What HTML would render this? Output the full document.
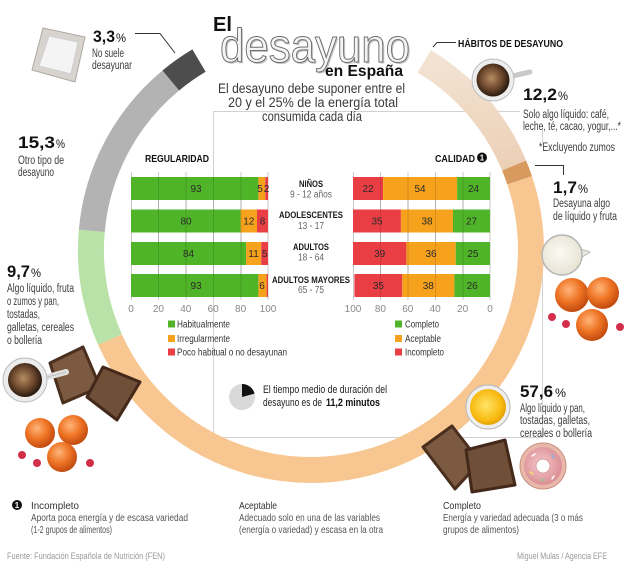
<!DOCTYPE html>
<html><head><meta charset="utf-8"><style>
html,body{margin:0;padding:0;background:#fff;}
svg{display:block;}
text{font-family:"Liberation Sans",Arial,sans-serif;}
</style></head><body>
<svg width="624" height="571" viewBox="0 0 624 571" xmlns="http://www.w3.org/2000/svg">
<defs>
 <radialGradient id="coffee" cx="45%" cy="45%" r="55%"><stop offset="0" stop-color="#b68c62"/><stop offset="0.6" stop-color="#6b472c"/><stop offset="1" stop-color="#2a1a10"/></radialGradient>
 <radialGradient id="orng" cx="40%" cy="35%" r="65%"><stop offset="0" stop-color="#ffb57a"/><stop offset="0.55" stop-color="#ee7424"/><stop offset="1" stop-color="#c24b10"/></radialGradient>
 <radialGradient id="juice" cx="45%" cy="45%" r="60%"><stop offset="0" stop-color="#ffe468"/><stop offset="0.7" stop-color="#f8bb12"/><stop offset="1" stop-color="#e09a00"/></radialGradient>
 <radialGradient id="milk" cx="45%" cy="45%" r="60%"><stop offset="0" stop-color="#fbfaf4"/><stop offset="1" stop-color="#e6e2d2"/></radialGradient>
 <radialGradient id="donut" cx="45%" cy="45%" r="60%"><stop offset="0" stop-color="#f6c8cc"/><stop offset="1" stop-color="#d88a90"/></radialGradient>
 <linearGradient id="tanG" x1="0" y1="0" x2="0" y2="1"><stop offset="0" stop-color="#f3e2d2"/><stop offset="1" stop-color="#ecd0b6"/></linearGradient>
</defs>

<!-- frame lines -->
<g stroke="#d2d2d2" stroke-width="1" fill="none">
 <path d="M213.5,437.5 V111.5 H520"/>
 <path d="M213.5,437.5 H542.5 V237"/>
 <path d="M542.5,125 V143"/>
</g>

<!-- ring -->
<g fill="none" stroke-width="26">
 <path d="M519.6,180.2 A220,220 0 0 1 110.0,339.5" stroke="#f8c690"/>
 <path d="M110.0,339.5 A220,220 0 0 1 91.8,230.8" stroke="#b9e2a8"/>
 <path d="M91.8,230.8 A220,220 0 0 1 170.8,80.5" stroke="#b3b3b3"/>
 <path d="M170.8,80.5 A220,220 0 0 1 199.0,60.6" stroke="#4d4d4d"/>
 <path d="M424.3,61.4 A220,220 0 0 1 514.1,165.5" stroke="url(#tanG)"/>
 <path d="M514.1,165.5 A220,220 0 0 1 519.6,180.2" stroke="#d89a5e"/>
</g>

<!-- title -->
<text x="213" y="31" font-size="20" font-weight="bold" fill="#111" textLength="19" lengthAdjust="spacingAndGlyphs">El</text>
<text x="221.5" y="63.5" font-size="47" fill="#c4c4c4" textLength="190" lengthAdjust="spacingAndGlyphs">desayuno</text>
<text x="220" y="62" font-size="47" fill="#f4f4f4" stroke="#6e6e6e" stroke-width="1" textLength="190" lengthAdjust="spacingAndGlyphs">desayuno</text>
<text x="325" y="76" font-size="16" font-weight="bold" fill="#111" textLength="78" lengthAdjust="spacingAndGlyphs">en España</text>
<g font-size="13.5" fill="#3a3a3a" text-anchor="middle">
 <text x="311.5" y="93" textLength="187" lengthAdjust="spacingAndGlyphs">El desayuno debe suponer entre el</text>
 <text x="313" y="107" textLength="170" lengthAdjust="spacingAndGlyphs">20 y el 25% de la energía total</text>
 <text x="312" y="121" textLength="100" lengthAdjust="spacingAndGlyphs">consumida cada día</text>
</g>

<!-- callout lines -->
<g stroke="#333" stroke-width="1" fill="none">
 <path d="M135,33.5 H160 L175,53"/>
 <path d="M433,47 L437,42.5 H456"/>
 <path d="M535,165.5 H563.5 V175"/>
</g>

<!-- napkin -->
<polygon points="43,28 85,37 75,82 32,70" fill="#d7d3cf" stroke="#aea8a2" stroke-width="1"/>
<polygon points="49,36 78,42 71,74 39,66" fill="#f4f4f4" stroke="#cfcfcf" stroke-width="1"/>

<!-- top-left annotations -->
<text x="93" y="42" font-size="17" font-weight="bold" fill="#111" textLength="22" lengthAdjust="spacingAndGlyphs">3,3</text>
<text x="116" y="42" font-size="12" fill="#111" textLength="10" lengthAdjust="spacingAndGlyphs">%</text>
<g font-size="11.5" fill="#3c3c3c">
 <text x="92" y="57" textLength="32" lengthAdjust="spacingAndGlyphs">No suele</text>
 <text x="92" y="69" textLength="40" lengthAdjust="spacingAndGlyphs">desayunar</text>
</g>
<text x="18" y="148" font-size="17" font-weight="bold" fill="#111" textLength="37" lengthAdjust="spacingAndGlyphs">15,3</text>
<text x="56" y="148" font-size="12" fill="#111" textLength="9" lengthAdjust="spacingAndGlyphs">%</text>
<g font-size="11.5" fill="#3c3c3c">
 <text x="18" y="164" textLength="46" lengthAdjust="spacingAndGlyphs">Otro tipo de</text>
 <text x="18" y="176" textLength="36" lengthAdjust="spacingAndGlyphs">desayuno</text>
</g>
<text x="7" y="277" font-size="17" font-weight="bold" fill="#111" textLength="23" lengthAdjust="spacingAndGlyphs">9,7</text>
<text x="31" y="277" font-size="12" fill="#111" textLength="10" lengthAdjust="spacingAndGlyphs">%</text>
<g font-size="11.5" fill="#3c3c3c">
 <text x="7" y="292" textLength="67" lengthAdjust="spacingAndGlyphs">Algo líquido, fruta</text>
 <text x="7" y="305" textLength="52" lengthAdjust="spacingAndGlyphs">o zumos y pan,</text>
 <text x="7" y="318" textLength="33" lengthAdjust="spacingAndGlyphs">tostadas,</text>
 <text x="7" y="331" textLength="67" lengthAdjust="spacingAndGlyphs">galletas, cereales</text>
 <text x="7" y="344" textLength="35" lengthAdjust="spacingAndGlyphs">o bollería</text>
</g>

<!-- right annotations -->
<text x="458" y="47" font-size="10" font-weight="bold" fill="#111" textLength="105" lengthAdjust="spacingAndGlyphs">HÁBITOS DE DESAYUNO</text>
<text x="523" y="100" font-size="17" font-weight="bold" fill="#111" textLength="34" lengthAdjust="spacingAndGlyphs">12,2</text>
<text x="558" y="100" font-size="12" fill="#111" textLength="10" lengthAdjust="spacingAndGlyphs">%</text>
<g font-size="11.5" fill="#3c3c3c">
 <text x="523" y="118" textLength="86" lengthAdjust="spacingAndGlyphs">Solo algo líquido: café,</text>
 <text x="523" y="130" textLength="98" lengthAdjust="spacingAndGlyphs">leche, té, cacao, yogur,...*</text>
 <text x="539" y="151" textLength="76" lengthAdjust="spacingAndGlyphs">*Excluyendo zumos</text>
</g>
<text x="553" y="193" font-size="17" font-weight="bold" fill="#111" textLength="24" lengthAdjust="spacingAndGlyphs">1,7</text>
<text x="578" y="193" font-size="12" fill="#111" textLength="10" lengthAdjust="spacingAndGlyphs">%</text>
<g font-size="11.5" fill="#3c3c3c">
 <text x="553" y="207" textLength="57" lengthAdjust="spacingAndGlyphs">Desayuna algo</text>
 <text x="553" y="220" textLength="64" lengthAdjust="spacingAndGlyphs">de líquido y fruta</text>
</g>
<text x="520" y="397" font-size="17" font-weight="bold" fill="#111" textLength="33" lengthAdjust="spacingAndGlyphs">57,6</text>
<text x="555" y="397" font-size="12" fill="#111" textLength="11" lengthAdjust="spacingAndGlyphs">%</text>
<g font-size="11.5" fill="#3c3c3c">
 <text x="520" y="412" textLength="65" lengthAdjust="spacingAndGlyphs">Algo líquido y pan,</text>
 <text x="520" y="424" textLength="70" lengthAdjust="spacingAndGlyphs">tostadas, galletas,</text>
 <text x="520" y="437" textLength="72" lengthAdjust="spacingAndGlyphs">cereales o bollería</text>
</g>

<!-- chart titles -->
<text x="145" y="162" font-size="10" font-weight="bold" fill="#111" textLength="64" lengthAdjust="spacingAndGlyphs">REGULARIDAD</text>
<text x="435" y="162" font-size="10" font-weight="bold" fill="#111" textLength="40" lengthAdjust="spacingAndGlyphs">CALIDAD</text>
<circle cx="482" cy="157.5" r="5" fill="#111"/>
<text x="482" y="160.5" font-size="8" font-weight="bold" fill="#fff" text-anchor="middle">1</text>

<!-- gridlines -->
<g stroke="#c8c8c8" stroke-width="1">
 <path d="M131.5,172 V300 M158.5,172 V300 M186,172 V300 M213.5,172 V300 M241,172 V300 M268,172 V300"/>
 <path d="M353.5,172 V300 M380.5,172 V300 M408,172 V300 M435.5,172 V300 M463,172 V300 M490,172 V300"/>
</g>

<!-- left bars -->
<g>
 <rect x="131" y="177" width="127.4" height="23" fill="#4fb428"/>
 <rect x="258.4" y="177" width="6.9" height="23" fill="#f6a21d"/>
 <rect x="265.3" y="177" width="2.7" height="23" fill="#ea3e45"/>
 <rect x="131" y="209.5" width="109.6" height="23" fill="#4fb428"/>
 <rect x="240.6" y="209.5" width="16.4" height="23" fill="#f6a21d"/>
 <rect x="257" y="209.5" width="11" height="23" fill="#ea3e45"/>
 <rect x="131" y="242" width="115.1" height="23" fill="#4fb428"/>
 <rect x="246.1" y="242" width="15.1" height="23" fill="#f6a21d"/>
 <rect x="261.2" y="242" width="6.8" height="23" fill="#ea3e45"/>
 <rect x="131" y="274" width="127.4" height="23" fill="#4fb428"/>
 <rect x="258.4" y="274" width="8.2" height="23" fill="#f6a21d"/>
 <rect x="266.6" y="274" width="1.4" height="23" fill="#ea3e45"/>
</g>
<!-- right bars -->
<g>
 <rect x="353" y="177" width="30.1" height="23" fill="#ea3e45"/>
 <rect x="383.1" y="177" width="74" height="23" fill="#f6a21d"/>
 <rect x="457.1" y="177" width="32.9" height="23" fill="#4fb428"/>
 <rect x="353" y="209.5" width="47.9" height="23" fill="#ea3e45"/>
 <rect x="400.9" y="209.5" width="52.1" height="23" fill="#f6a21d"/>
 <rect x="453" y="209.5" width="37" height="23" fill="#4fb428"/>
 <rect x="353" y="242" width="53.4" height="23" fill="#ea3e45"/>
 <rect x="406.4" y="242" width="49.35" height="23" fill="#f6a21d"/>
 <rect x="455.75" y="242" width="34.25" height="23" fill="#4fb428"/>
 <rect x="354.4" y="274" width="47.9" height="23" fill="#ea3e45"/>
 <rect x="402.3" y="274" width="52.1" height="23" fill="#f6a21d"/>
 <rect x="454.4" y="274" width="35.6" height="23" fill="#4fb428"/>
</g>
<!-- gridline overlay in bars -->
<g stroke="rgba(0,0,0,0.13)" stroke-width="1">
 <path d="M158.5,177 V297 M186,177 V297 M213.5,177 V297 M241,177 V297"/>
 <path d="M380.5,177 V297 M408,177 V297 M435.5,177 V297 M463,177 V297"/>
</g>

<!-- bar labels -->
<g font-size="10" fill="#2a2a2a" text-anchor="middle">
 <text x="196" y="192">93</text><text x="260" y="192">5</text><text x="266.5" y="192">2</text>
 <text x="186" y="224.5">80</text><text x="248.8" y="224.5">12</text><text x="262.5" y="224.5">8</text>
 <text x="188.5" y="257">84</text><text x="253.6" y="257">11</text><text x="264.6" y="257">5</text>
 <text x="196" y="289">93</text><text x="262" y="289">6</text>
 <text x="368" y="192">22</text><text x="420" y="192">54</text><text x="473.5" y="192">24</text>
 <text x="377" y="224.5">35</text><text x="427" y="224.5">38</text><text x="471.5" y="224.5">27</text>
 <text x="379.7" y="257">39</text><text x="431" y="257">36</text><text x="472.9" y="257">25</text>
 <text x="378.4" y="289">35</text><text x="428.3" y="289">38</text><text x="472.2" y="289">26</text>
</g>

<!-- axis labels -->
<g font-size="10" fill="#888" text-anchor="middle">
 <text x="131" y="312">0</text><text x="158.4" y="312">20</text><text x="185.8" y="312">40</text><text x="213.2" y="312">60</text><text x="240.6" y="312">80</text><text x="268" y="312">100</text>
 <text x="353" y="312">100</text><text x="380.4" y="312">80</text><text x="407.8" y="312">60</text><text x="435.2" y="312">40</text><text x="462.6" y="312">20</text><text x="490" y="312">0</text>
</g>

<!-- center labels -->
<g text-anchor="middle">
 <g font-size="9.5" font-weight="bold" fill="#1a1a1a">
  <text x="311" y="187" textLength="24" lengthAdjust="spacingAndGlyphs">NIÑOS</text>
  <text x="311" y="218" textLength="64" lengthAdjust="spacingAndGlyphs">ADOLESCENTES</text>
  <text x="311" y="250" textLength="36" lengthAdjust="spacingAndGlyphs">ADULTOS</text>
  <text x="311" y="283" textLength="78" lengthAdjust="spacingAndGlyphs">ADULTOS MAYORES</text>
 </g>
 <g font-size="10" fill="#666">
  <text x="311" y="197.5" textLength="42" lengthAdjust="spacingAndGlyphs">9 - 12 años</text>
  <text x="311" y="229" textLength="26" lengthAdjust="spacingAndGlyphs">13 - 17</text>
  <text x="311" y="260.5" textLength="26" lengthAdjust="spacingAndGlyphs">18 - 64</text>
  <text x="311" y="293" textLength="26" lengthAdjust="spacingAndGlyphs">65 - 75</text>
 </g>
</g>

<!-- legends -->
<rect x="168" y="320.5" width="7" height="7" fill="#4fb428"/>
<rect x="168" y="335" width="7" height="7" fill="#f6a21d"/>
<rect x="168" y="348.5" width="7" height="7" fill="#ea3e45"/>
<g font-size="10" fill="#333">
 <text x="177" y="327.5" textLength="53" lengthAdjust="spacingAndGlyphs">Habitualmente</text>
 <text x="177" y="342" textLength="53" lengthAdjust="spacingAndGlyphs">Irregularmente</text>
 <text x="177" y="355.5" textLength="110" lengthAdjust="spacingAndGlyphs">Poco habitual o no desayunan</text>
</g>
<rect x="395" y="320.5" width="7" height="7" fill="#4fb428"/>
<rect x="395" y="335" width="7" height="7" fill="#f6a21d"/>
<rect x="395" y="348.5" width="7" height="7" fill="#ea3e45"/>
<g font-size="10" fill="#333">
 <text x="405" y="327.5" textLength="34" lengthAdjust="spacingAndGlyphs">Completo</text>
 <text x="405" y="342" textLength="36" lengthAdjust="spacingAndGlyphs">Aceptable</text>
 <text x="405" y="355.5" textLength="39" lengthAdjust="spacingAndGlyphs">Incompleto</text>
</g>

<!-- pie -->
<circle cx="242" cy="397" r="13" fill="#d9d9d9"/>
<path d="M242,397 L242,384 A13,13 0 0 1 254.6,393.6 Z" fill="#111"/>
<text x="263" y="393" font-size="11" fill="#222" textLength="124" lengthAdjust="spacingAndGlyphs">El tiempo medio de duración del</text>
<text x="263" y="406" font-size="11" fill="#222" textLength="59" lengthAdjust="spacingAndGlyphs">desayuno es de</text>
<text x="326" y="406" font-size="11" font-weight="bold" fill="#111" textLength="54" lengthAdjust="spacingAndGlyphs">11,2 minutos</text>

<!-- top right coffee cup -->
<path d="M508,77 L530,72" stroke="#c9c9c9" stroke-width="5" stroke-linecap="round"/>
<circle cx="493" cy="80" r="21" fill="#ededed" stroke="#bdbdbd" stroke-width="1"/>
<circle cx="493" cy="80" r="16.5" fill="url(#coffee)"/>

<!-- milk jug -->
<path d="M578,248 L590,252 L578,260 Z" fill="#e9e7de" stroke="#b9b9b9"/>
<circle cx="562" cy="255" r="20" fill="url(#milk)" stroke="#b5b5b5" stroke-width="1.5"/>

<!-- right oranges -->
<circle cx="572" cy="295" r="17" fill="url(#orng)"/>
<circle cx="603" cy="293" r="16" fill="url(#orng)"/>
<circle cx="592" cy="325" r="16" fill="url(#orng)"/>
<g fill="#d42f4a">
 <circle cx="552" cy="317" r="4"/><circle cx="566" cy="324" r="4"/><circle cx="620" cy="327" r="4"/>
</g>

<!-- juice glass -->
<circle cx="488" cy="407" r="22" fill="#eeeeee" stroke="#b8b8b8" stroke-width="1"/>
<circle cx="488" cy="407" r="18" fill="url(#juice)"/>

<!-- right bread -->
<polygon points="423,447 452,426 480,462 455,489" fill="#7b5a41" stroke="#4a2f1e" stroke-width="3" stroke-linejoin="round"/>
<polygon points="466,450 505,440 515,485 472,492" fill="#6f4f37" stroke="#44291a" stroke-width="3" stroke-linejoin="round"/>
<!-- donut -->
<circle cx="543" cy="466" r="23" fill="#e9b8aa" stroke="#c7917f" stroke-width="1"/>
<circle cx="543" cy="466" r="19" fill="url(#donut)"/>
<circle cx="543" cy="466" r="7" fill="#fff" stroke="#d7a0a0"/>
<g stroke-width="1.5" stroke-linecap="round">
 <path d="M532,456 l3,-2" stroke="#fff"/><path d="M552,455 l2,3" stroke="#7fb0e0"/>
 <path d="M530,472 l3,2" stroke="#f5e16a"/><path d="M554,476 l-2,3" stroke="#fff"/>
 <path d="M541,480 l3,0" stroke="#8ad08a"/>
</g>

<!-- left bread & cup -->
<polygon points="50,363 83,347 100,387 63,403" fill="#7b5a41" stroke="#4a2f1e" stroke-width="3" stroke-linejoin="round"/>
<polygon points="87,397 103,367 140,382 117,420" fill="#6f4f37" stroke="#44291a" stroke-width="3" stroke-linejoin="round"/>
<path d="M44,378 L66,372" stroke="#e2e2e2" stroke-width="6" stroke-linecap="round"/>
<path d="M44,378 L66,372" stroke="#bdbdbd" stroke-width="1" stroke-linecap="round" fill="none"/>
<circle cx="25" cy="380" r="22" fill="#ececec" stroke="#bdbdbd" stroke-width="1"/>
<circle cx="25" cy="380" r="17" fill="url(#coffee)"/>

<!-- left oranges -->
<circle cx="40" cy="433" r="15" fill="url(#orng)"/>
<circle cx="73" cy="430" r="15" fill="url(#orng)"/>
<circle cx="62" cy="457" r="15" fill="url(#orng)"/>
<g fill="#d42f4a">
 <circle cx="22" cy="455" r="4"/><circle cx="37" cy="463" r="4"/><circle cx="90" cy="463" r="4"/>
</g>

<!-- bottom notes -->
<circle cx="17" cy="505" r="5" fill="#111"/>
<text x="17" y="508" font-size="8" font-weight="bold" fill="#fff" text-anchor="middle">1</text>
<g font-size="10.5" fill="#555">
 <text x="31" y="509" fill="#333" textLength="48" lengthAdjust="spacingAndGlyphs">Incompleto</text>
 <text x="31" y="521" textLength="157" lengthAdjust="spacingAndGlyphs">Aporta poca energía y de escasa variedad</text>
 <text x="31" y="533" textLength="81" lengthAdjust="spacingAndGlyphs">(1-2 grupos de alimentos)</text>
 <text x="239" y="509" fill="#333" textLength="38" lengthAdjust="spacingAndGlyphs">Aceptable</text>
 <text x="239" y="521" textLength="141" lengthAdjust="spacingAndGlyphs">Adecuado solo en una de las variables</text>
 <text x="239" y="533" textLength="144" lengthAdjust="spacingAndGlyphs">(energía o variedad) y escasa en la otra</text>
 <text x="443" y="509" fill="#333" textLength="38" lengthAdjust="spacingAndGlyphs">Completo</text>
 <text x="443" y="521" textLength="140" lengthAdjust="spacingAndGlyphs">Energía y variedad adecuada (3 o más</text>
 <text x="443" y="533" textLength="76" lengthAdjust="spacingAndGlyphs">grupos de alimentos)</text>
</g>
<text x="7" y="559" font-size="9" fill="#999" textLength="158" lengthAdjust="spacingAndGlyphs">Fuente: Fundación Española de Nutrición (FEN)</text>
<text x="607" y="559" font-size="9" fill="#999" text-anchor="end" textLength="90" lengthAdjust="spacingAndGlyphs">Miguel Mulas / Agencia EFE</text>
</svg>
</body></html>
